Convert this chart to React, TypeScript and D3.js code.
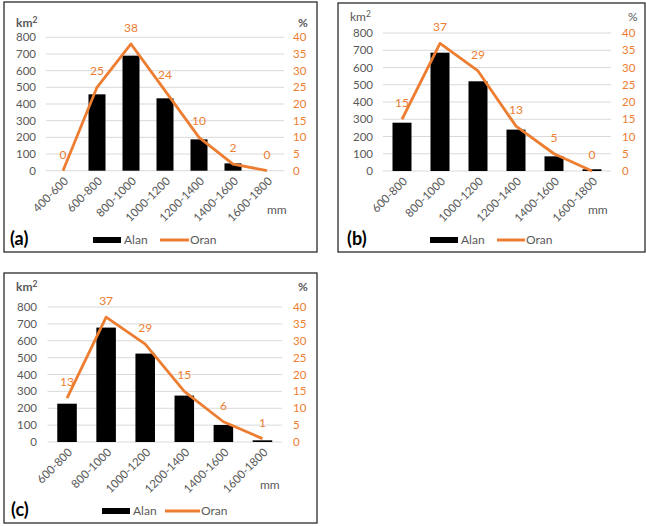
import * as d3 from "d3";

// (a) data
const catsA = ["400-600", "600-800", "800-1000", "1000-1200", "1200-1400", "1400-1600", "1600-1800"];
const alanA = [0, 458, 690, 434, 188, 44, 0];
const oranA = [0, 25, 38, 24, 10, 2, 0];

// (b) data
const catsB = ["600-800", "800-1000", "1000-1200", "1200-1400", "1400-1600", "1600-1800"];
const alanB = [280, 686, 520, 240, 85, 10];
const oranB = [15, 37, 29, 13, 5, 0];

// (c) data
const catsC = ["600-800", "800-1000", "1000-1200", "1200-1400", "1400-1600", "1600-1800"];
const alanC = [227, 678, 524, 275, 101, 10];
const oranC = [13, 37, 29, 15, 6, 1];

const leftTicks = [0, 100, 200, 300, 400, 500, 600, 700, 800];
const rightTicks = [0, 5, 10, 15, 20, 25, 30, 35, 40];

const FONT = "Lato, 'Open Sans', sans-serif";
const GRAY = "#595959";
const ORANGE = "#ED7D31";

type Layout = {
  tag: string;
  box: [number, number, number, number];
  plot: { l: number; r: number; t: number; b: number };
  kmX: number;
  kmY: number;
  kmBold: boolean;
  pctX: number;
  leftLblX: number;
  rightLblX: number;
  mmX: number;
  mmY: number;
  tagX: number;
  tagY: number;
  legRect: number;
  legLine: [number, number];
  legY: number;
};

type PanelProps = {
  layout: Layout;
  cats: string[];
  alan: number[];
  oran: number[];
};

const Panel = ({ layout, cats, alan, oran }: PanelProps) => {
  const { box, plot } = layout;
  const x = d3.scaleBand<string>().domain(cats).range([plot.l, plot.r]).paddingInner(0.5).paddingOuter(0.25);
  const yL = d3.scaleLinear().domain([0, 800]).range([plot.b, plot.t]);
  const yR = d3.scaleLinear().domain([0, 40]).range([plot.b, plot.t]);
  const cx = (c: string) => (x(c) ?? 0) + x.bandwidth() / 2;

  const line = d3
    .line<number>()
    .x((_, i) => cx(cats[i]))
    .y((d) => yR(d));

  const weight = layout.kmBold ? "bold" : "normal";

  return (
    <g fontFamily={FONT}>
      <rect x={box[0]} y={box[1]} width={box[2] - box[0]} height={box[3] - box[1]} fill="white" stroke="#2b2b2b" strokeWidth={1.3} />
      {leftTicks.map((t) => (
        <g key={t}>
          <line x1={plot.l} x2={plot.r} y1={yL(t)} y2={yL(t)} stroke="#D9D9D9" strokeWidth={1} />
          <text x={layout.leftLblX} y={yL(t)} dy="0.35em" textAnchor="end" fontSize={11.5} fill={GRAY}>
            {t}
          </text>
        </g>
      ))}
      {rightTicks.map((t) => (
        <text key={t} x={layout.rightLblX} y={yR(t)} dy="0.35em" fontSize={11.5} fill={ORANGE}>
          {t}
        </text>
      ))}
      <text x={layout.kmX} y={layout.kmY} fontSize={12} fontWeight={weight} fill={GRAY}>
        km
        <tspan fontSize={8.5} dy={-4.5}>
          2
        </tspan>
      </text>
      <text x={layout.pctX} y={layout.kmY} fontSize={12} fontWeight={weight} fill={GRAY}>
        %
      </text>
      {cats.map((c, i) => (
        <rect key={c} x={x(c)} y={yL(alan[i])} width={x.bandwidth()} height={plot.b - yL(alan[i])} fill="black" />
      ))}
      <path d={line(oran) ?? ""} fill="none" stroke={ORANGE} strokeWidth={2.8} strokeLinejoin="round" />
      {cats.map((c, i) => (
        <text key={c} x={cx(c)} y={yR(oran[i]) - 12} textAnchor="middle" fontSize={12} fill={ORANGE}>
          {oran[i]}
        </text>
      ))}
      {cats.map((c) => (
        <text
          key={c}
          transform={`translate(${cx(c) + 6},${plot.b + 11}) rotate(-45)`}
          textAnchor="end"
          fontSize={11.5}
          fill={GRAY}
        >
          {c}
        </text>
      ))}
      <text x={layout.mmX} y={layout.mmY} fontSize={12} fill={GRAY}>
        mm
      </text>
      <text x={layout.tagX} y={layout.tagY} fontSize={18} fontWeight="bold" fill="black">
        {layout.tag}
      </text>
      <rect x={layout.legRect} y={layout.legY - 3} width={28} height={6} fill="black" />
      <text x={layout.legRect + 31} y={layout.legY} dy="0.35em" fontSize={12} fill={GRAY}>
        Alan
      </text>
      <line x1={layout.legLine[0]} x2={layout.legLine[1]} y1={layout.legY} y2={layout.legY} stroke={ORANGE} strokeWidth={3} />
      <text x={layout.legLine[1] + 1} y={layout.legY} dy="0.35em" fontSize={12} fill={GRAY}>
        Oran
      </text>
    </g>
  );
};

const layoutA: Layout = {
  tag: "(a)",
  box: [4, 2, 317, 252],
  plot: { l: 46, r: 284, t: 37.3, b: 170.7 },
  kmX: 16,
  kmY: 27,
  kmBold: true,
  pctX: 298,
  leftLblX: 36,
  rightLblX: 293,
  mmX: 267,
  mmY: 214,
  tagX: 10,
  tagY: 245,
  legRect: 93,
  legLine: [160, 189],
  legY: 240,
};

const layoutB: Layout = {
  tag: "(b)",
  box: [338, 3, 645, 252],
  plot: { l: 383, r: 611, t: 33, b: 171 },
  kmX: 350,
  kmY: 21,
  kmBold: false,
  pctX: 628,
  leftLblX: 373,
  rightLblX: 622,
  mmX: 588,
  mmY: 214,
  tagX: 347,
  tagY: 245,
  legRect: 430,
  legLine: [497, 525],
  legY: 240,
};

const layoutC: Layout = {
  tag: "(c)",
  box: [4, 273, 317, 523],
  plot: { l: 47.5, r: 282, t: 307, b: 442 },
  kmX: 16,
  kmY: 291,
  kmBold: true,
  pctX: 298,
  leftLblX: 37,
  rightLblX: 293,
  mmX: 260,
  mmY: 489,
  tagX: 11,
  tagY: 516,
  legRect: 102,
  legLine: [165, 200],
  legY: 511,
};

export default function App() {
  return (
    <svg width={646} height={526} style={{ position: "absolute", left: 0, top: 0, background: "white" }}>
      <Panel layout={layoutA} cats={catsA} alan={alanA} oran={oranA} />
      <Panel layout={layoutB} cats={catsB} alan={alanB} oran={oranB} />
      <Panel layout={layoutC} cats={catsC} alan={alanC} oran={oranC} />
    </svg>
  );
}
